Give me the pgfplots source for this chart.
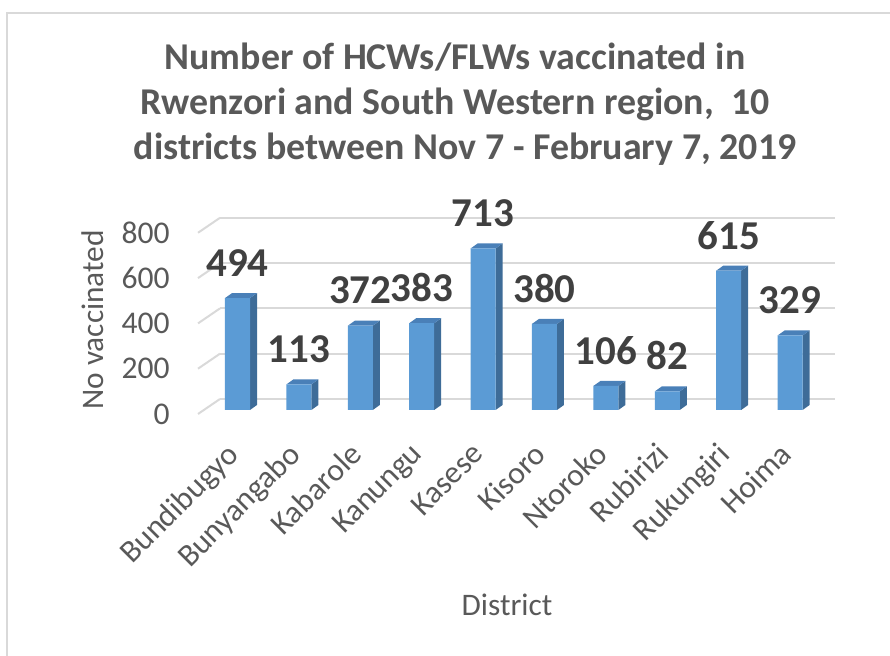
\documentclass[border=0pt]{standalone}
\usepackage{pgfplots}
\pgfplotsset{compat=1.18}
\usepackage{fontspec}
\setmainfont{Carlito}
\definecolor{txt}{HTML}{595959}
\definecolor{lbl}{HTML}{404040}
\definecolor{grd}{HTML}{D9D9D9}
\definecolor{frontc}{HTML}{5B9BD5}
\definecolor{sidec}{HTML}{3E6C98}
\definecolor{topc}{HTML}{4A80B8}
\begin{document}
\begin{tikzpicture}
\path[use as bounding box] (0,0) rectangle (667.5pt,492pt);
\draw[grd, line width=1.2pt] (5.25pt,0) -- (5.25pt,482.25pt) -- (667.5pt,482.25pt);
\node[font=\fontsize{28.4}{33.75}\selectfont\bfseries, text=txt, align=center] at (341.25pt,414pt)
  {Number of HCWs/FLWs vaccinated in\\Rwenzori and South Western region,~~10\\\hspace*{15pt}districts between Nov 7 - February 7, 2019};
\begin{axis}[
  at={(178.125pt,184.5pt)}, anchor=origin,
  x=46.05pt, y=0.169875pt,
  xmin=-0.643, xmax=9.74, ymin=0, ymax=848.6,
  clip=false,
  axis line style={draw=none},
  major tick length=0pt,
  /pgf/number format/assume math mode=true,
  xtick={0,...,9},
  xticklabels={Bundibugyo,Bunyangabo,Kabarole,Kanungu,Kasese,Kisoro,Ntoroko,Rubirizi,Rukungiri,Hoima},
  xticklabel style={xshift=-9.4pt, yshift=-23pt, rotate=45, anchor=north east, inner sep=0pt,
     font=\fontsize{23.7}{28}\selectfont, text=txt},
  ytick={0,200,...,800},
  yticklabel style={yshift=-3pt, xshift=-21pt, anchor=east, inner sep=0pt,
     font=\fontsize{23.7}{28}\selectfont, text=txt},
  xlabel={District},
  ylabel={No vaccinated},
  every axis x label/.style={at={(rel axis cs:0.4847,-1.0146)}, anchor=center,
     font=\fontsize{23.5}{28}\selectfont, text=txt},
  every axis y label/.style={at={(rel axis cs:-0.1647,0.4683)}, rotate=90, anchor=center,
     font=\fontsize{23.5}{28}\selectfont, text=txt},
]
% back wall gridlines
\addplot[grd, line width=1.5pt] coordinates {(-0.285,48.6) (9.73,48.6)};
\addplot[grd, line width=1.5pt] coordinates {(-0.285,248.6) (9.73,248.6)};
\addplot[grd, line width=1.5pt] coordinates {(-0.285,448.6) (9.73,448.6)};
\addplot[grd, line width=1.5pt] coordinates {(-0.285,648.6) (9.73,648.6)};
\addplot[grd, line width=1.5pt] coordinates {(-0.285,848.6) (9.73,848.6)};
% side wall stubs
\addplot[grd, line width=1.5pt] coordinates {(-0.643,-17.6) (-0.285,48.6)};
\addplot[grd, line width=1.5pt] coordinates {(-0.643,182.4) (-0.285,248.6)};
\addplot[grd, line width=1.5pt] coordinates {(-0.643,382.4) (-0.285,448.6)};
\addplot[grd, line width=1.5pt] coordinates {(-0.643,582.4) (-0.285,648.6)};
\addplot[grd, line width=1.5pt] coordinates {(-0.643,782.4) (-0.285,848.6)};
% side faces
\addplot[fill=sidec, draw=none] coordinates {(0.2036,0) (0.3176,22.1) (0.3176,516.1) (0.2036,494)} -- cycle;
\addplot[fill=sidec, draw=none] coordinates {(1.2036,0) (1.3176,22.1) (1.3176,135.1) (1.2036,113)} -- cycle;
\addplot[fill=sidec, draw=none] coordinates {(2.2036,0) (2.3176,22.1) (2.3176,394.1) (2.2036,372)} -- cycle;
\addplot[fill=sidec, draw=none] coordinates {(3.2036,0) (3.3176,22.1) (3.3176,405.1) (3.2036,383)} -- cycle;
\addplot[fill=sidec, draw=none] coordinates {(4.2036,0) (4.3176,22.1) (4.3176,735.1) (4.2036,713)} -- cycle;
\addplot[fill=sidec, draw=none] coordinates {(5.2036,0) (5.3176,22.1) (5.3176,402.1) (5.2036,380)} -- cycle;
\addplot[fill=sidec, draw=none] coordinates {(6.2036,0) (6.3176,22.1) (6.3176,128.1) (6.2036,106)} -- cycle;
\addplot[fill=sidec, draw=none] coordinates {(7.2036,0) (7.3176,22.1) (7.3176,104.1) (7.2036,82)} -- cycle;
\addplot[fill=sidec, draw=none] coordinates {(8.2036,0) (8.3176,22.1) (8.3176,637.1) (8.2036,615)} -- cycle;
\addplot[fill=sidec, draw=none] coordinates {(9.2036,0) (9.3176,22.1) (9.3176,351.1) (9.2036,329)} -- cycle;
% top faces
\addplot[fill=topc, draw=none] coordinates {(-0.2036,494) (0.2036,494) (0.3176,516.1) (-0.0896,516.1)} -- cycle;
\addplot[fill=topc, draw=none] coordinates {(0.7964,113) (1.2036,113) (1.3176,135.1) (0.9104,135.1)} -- cycle;
\addplot[fill=topc, draw=none] coordinates {(1.7964,372) (2.2036,372) (2.3176,394.1) (1.9104,394.1)} -- cycle;
\addplot[fill=topc, draw=none] coordinates {(2.7964,383) (3.2036,383) (3.3176,405.1) (2.9104,405.1)} -- cycle;
\addplot[fill=topc, draw=none] coordinates {(3.7964,713) (4.2036,713) (4.3176,735.1) (3.9104,735.1)} -- cycle;
\addplot[fill=topc, draw=none] coordinates {(4.7964,380) (5.2036,380) (5.3176,402.1) (4.9104,402.1)} -- cycle;
\addplot[fill=topc, draw=none] coordinates {(5.7964,106) (6.2036,106) (6.3176,128.1) (5.9104,128.1)} -- cycle;
\addplot[fill=topc, draw=none] coordinates {(6.7964,82) (7.2036,82) (7.3176,104.1) (6.9104,104.1)} -- cycle;
\addplot[fill=topc, draw=none] coordinates {(7.7964,615) (8.2036,615) (8.3176,637.1) (7.9104,637.1)} -- cycle;
\addplot[fill=topc, draw=none] coordinates {(8.7964,329) (9.2036,329) (9.3176,351.1) (8.9104,351.1)} -- cycle;
% front faces with data labels
\addplot[ybar, bar width=18.75pt, bar shift=0pt, fill=frontc, draw=none,
  nodes near coords,
  every node near coord/.append style={anchor=center, yshift=26.6pt,
     font=\fontsize{30.75}{36}\selectfont\bfseries, text=lbl}]
  coordinates {(0,494) (1,113) (2,372) (3,383) (4,713) (5,380) (6,106) (7,82) (8,615) (9,329)};
\end{axis}
\end{tikzpicture}
\end{document}
